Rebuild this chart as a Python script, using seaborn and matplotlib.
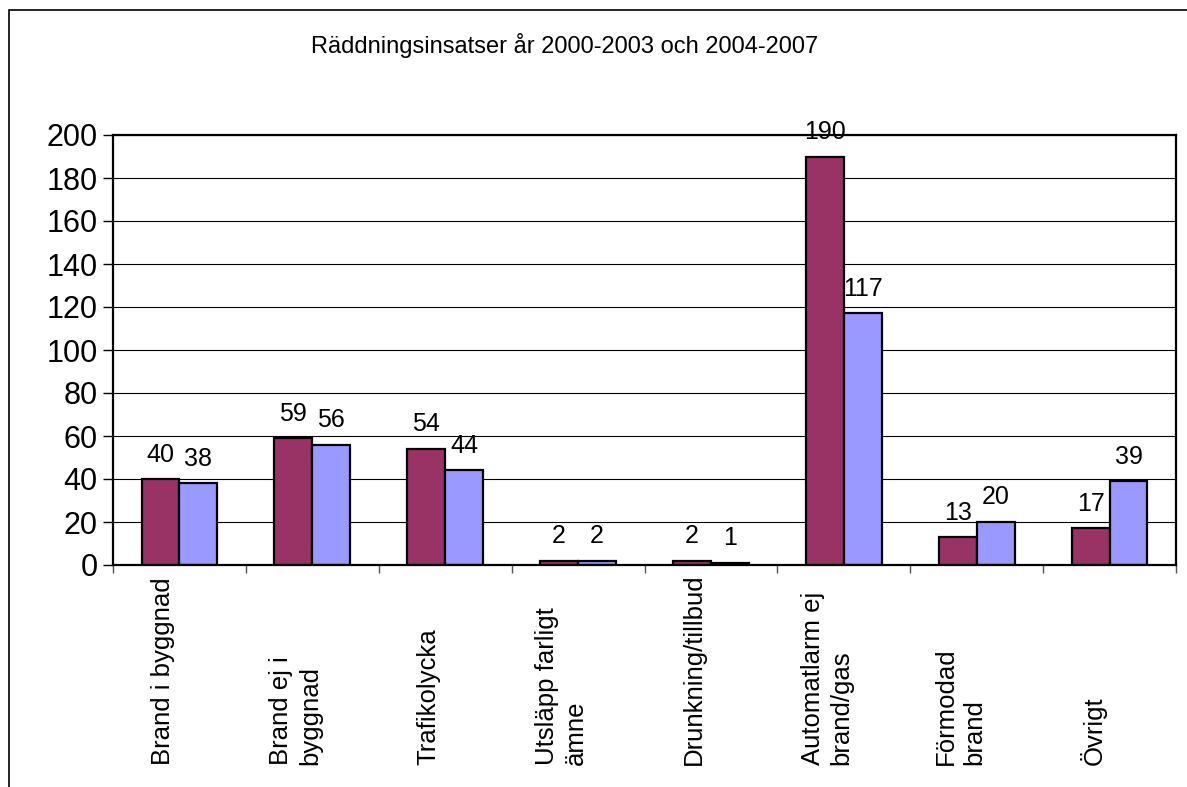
import matplotlib
matplotlib.use("Agg")
import matplotlib.pyplot as plt
import matplotlib.transforms as mtransforms
from matplotlib.patches import Rectangle
import matplotlib.container as mcontainer
import seaborn as sns
import pandas as pd

# Kategorier och värden (avlästa från originalbilden)
kategorier = [
    "Brand i byggnad",
    "Brand ej i\nbyggnad",
    "Trafikolycka",
    "Utsläpp farligt\nämne",
    "Drunkning/tillbud",
    "Automatlarm ej\nbrand/gas",
    "Förmodad\nbrand",
    "Övrigt",
]
perioder = ["2000-2003", "2004-2007"]
varden_2000_2003 = [40, 59, 54, 2, 2, 190, 13, 17]
varden_2004_2007 = [38, 56, 44, 2, 1, 117, 20, 39]
farger = ["#993366", "#9999FF"]

df = pd.DataFrame({
    "Kategori": kategorier * 2,
    "Period": [perioder[0]] * len(kategorier) + [perioder[1]] * len(kategorier),
    "Antal": varden_2000_2003 + varden_2004_2007,
})

sns.set_style("white")
plt.rcParams["font.family"] = ["Liberation Sans", "DejaVu Sans"]
plt.rcParams["text.color"] = "black"
plt.rcParams["ytick.labelcolor"] = "black"

fig = plt.figure(figsize=(11.87, 7.87), dpi=100)
ax = fig.add_axes([113 / 1187, 1 - 565 / 787, (1176 - 113) / 1187, (565 - 135) / 787])

sns.barplot(
    data=df, x="Kategori", y="Antal", hue="Period", order=kategorier,
    hue_order=perioder, palette=farger, width=0.57, dodge=True,
    edgecolor="black", linewidth=1.6, saturation=1, legend=False, ax=ax,
)

ax.set_ylim(0, 200)
ax.set_xlim(-0.5, len(kategorier) - 0.5)
ax.set_yticks(range(0, 201, 20))
ax.tick_params(axis="y", labelsize=22, length=7, width=1, color="black",
               labelcolor="black", direction="out", left=True, pad=4)
ax.yaxis.grid(True, color="black", linewidth=0.8)
ax.set_axisbelow(True)
ax.set_xlabel("")
ax.set_ylabel("")

# Tickmarkeringar mellan kategorierna, som i Excel
ax.set_xticks([i - 0.5 for i in range(len(kategorier) + 1)], minor=True)
ax.set_xticks(range(len(kategorier)))
ax.set_xticklabels([])
ax.tick_params(axis="x", which="major", length=0)
ax.tick_params(axis="x", which="minor", length=6, width=1, color="#555555", direction="out", bottom=True)

for spine in ax.spines.values():
    spine.set_visible(True)
    spine.set_color("black")
    spine.set_linewidth(1.6)

for container in ax.containers:
    if isinstance(container, mcontainer.BarContainer):
        ax.bar_label(container, fmt="%d", padding=9, fontsize=18, color="black")

# Kategoritexter, roterade och nedre kant i linje
trans = mtransforms.blended_transform_factory(ax.transData, fig.transFigure)
trans = trans + mtransforms.ScaledTranslation(-12 / 72, 0, fig.dpi_scale_trans)
for i, namn in enumerate(kategorier):
    ax.text(i, 1 - 765 / 787, namn, transform=trans, rotation=90,
            ha="center", va="bottom", multialignment="left",
            fontsize=18.5, linespacing=1.25, color="black")

fig.text(565 / 1187, 1 - 45 / 787, "Räddningsinsatser år 2000-2003 och 2004-2007",
         ha="center", va="center", fontsize=17, color="black")

# Ram runt diagrammet
fig.add_artist(Rectangle((8.5 / 1187, -0.05), 1.2, 1.05 - 10 / 787,
                         transform=fig.transFigure, fill=False,
                         edgecolor="black", linewidth=1.2))

plt.savefig("out.png", dpi=100)
plt.close()
